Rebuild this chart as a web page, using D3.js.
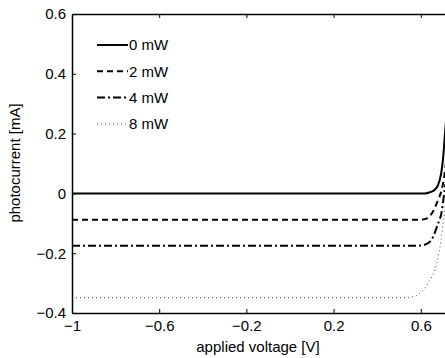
<!DOCTYPE html>
<html>
<head>
<meta charset="utf-8">
<script src="https://cdn.jsdelivr.net/npm/d3@7"></script>
<style>
  body { margin: 0; background: #fff; }
  svg { display: block; font-family: "Liberation Sans", Arial, sans-serif; }
</style>
</head>
<body>
<div id="chart"></div>
<script>
const width = 445;
const height = 358;
const margin = { top: 14, left: 72 };

// data: voltage [V] vs photocurrent [mA]
const seriesNames = ['0 mW', '2 mW', '4 mW', '8 mW'];
const v0 = [-1, 0.6, 0.619, 0.642, 0.665, 0.679, 0.693, 0.702, 0.711, 0.72];
const i0 = [0, 0, 0, 0.004, 0.013, 0.028, 0.065, 0.115, 0.2, 0.28];
const v2 = [-1, 0.596, 0.62, 0.642, 0.658, 0.672, 0.685, 0.697, 0.706, 0.715];
const i2 = [-0.088, -0.088, -0.086, -0.075, -0.058, -0.035, -0.012, 0.015, 0.05, 0.1];
const v4 = [-1, 0.58, 0.6, 0.62, 0.642, 0.66, 0.674, 0.685, 0.693, 0.702, 0.712];
const i4 = [-0.175, -0.175, -0.174, -0.171, -0.161, -0.14, -0.111, -0.09, -0.072, -0.03, 0.03];
const v8 = [-1, 0.53, 0.57, 0.596, 0.615, 0.633, 0.65, 0.665, 0.679, 0.693, 0.702, 0.711, 0.72];
const i8 = [-0.349, -0.349, -0.345, -0.334, -0.32, -0.3, -0.28, -0.256, -0.212, -0.156, -0.1, -0.055, 0.0];
const xTicks = [-1, -0.6, -0.2, 0.2, 0.6];
const yTicks = [-0.4, -0.2, 0, 0.2, 0.4, 0.6];

const styles = [
  { dash: null, w: 2, color: '#000' },
  { dash: '6,4', w: 2, color: '#000' },
  { dash: '8,3,2,3', w: 2, color: '#000' },
  { dash: '1,3', w: 1, color: '#444' }
];

const series = [[v0, i0], [v2, i2], [v4, i4], [v8, i8]].map(([v, c], k) => ({
  name: seriesNames[k],
  points: v.map((d, j) => [d, c[j]])
}));

const svg = d3.select('#chart')
  .append('svg')
  .attr('width', width)
  .attr('height', height);

const x = d3.scaleLinear()
  .domain([-1, 0.75])
  .range([margin.left, margin.left + 1.75 * 218]);

const y = d3.scaleLinear()
  .domain([-0.4, 0.6])
  .range([313, margin.top]);

const fmt = d => (d < 0 ? '\u2212' : '') + Math.abs(d).toString();

svg.append('defs').append('clipPath').attr('id', 'clip')
  .append('rect')
  .attr('x', x(-1)).attr('y', y(0.6))
  .attr('width', x(0.75) - x(-1)).attr('height', y(-0.4) - y(0.6));

// curves
const line = d3.line().x(d => x(d[0])).y(d => y(d[1])).curve(d3.curveMonotoneX);
svg.append('g')
  .attr('clip-path', 'url(#clip)')
  .selectAll('path')
  .data(series)
  .join('path')
    .attr('d', d => line(d.points))
    .attr('fill', 'none')
    .attr('stroke', (d, i) => styles[i].color)
    .attr('stroke-width', (d, i) => styles[i].w)
    .attr('stroke-dasharray', (d, i) => styles[i].dash);

// axes (ticks inward, mirrored on top)
const fs = 15;
const axisStyle = g => {
  g.select('.domain').attr('stroke-width', 1.5);
  g.selectAll('.tick line').attr('stroke-width', 1);
  g.selectAll('text').attr('font-size', fs).attr('fill', '#000');
};

svg.append('g')
  .attr('transform', `translate(0,${y(-0.4)})`)
  .call(d3.axisBottom(x).tickValues(xTicks).tickFormat(fmt).tickSizeInner(-4).tickSizeOuter(0).tickPadding(7))
  .call(axisStyle);

svg.append('g')
  .attr('transform', `translate(0,${y(0.6)})`)
  .call(d3.axisTop(x).tickValues(xTicks).tickFormat('').tickSizeInner(-4).tickSizeOuter(0))
  .call(axisStyle);

svg.append('g')
  .attr('transform', `translate(${x(-1)},0)`)
  .call(d3.axisLeft(y).tickValues(yTicks).tickFormat(fmt).tickSizeInner(-4).tickSizeOuter(0).tickPadding(6))
  .call(axisStyle);

// axis titles
svg.append('text')
  .attr('x', 258).attr('y', 352)
  .attr('text-anchor', 'middle')
  .attr('font-size', fs)
  .text('applied voltage [V]');

svg.append('text')
  .attr('transform', `translate(20,${163}) rotate(-90)`)
  .attr('text-anchor', 'middle')
  .attr('font-size', fs)
  .text('photocurrent [mA]');

// legend
const legend = svg.append('g')
  .selectAll('g')
  .data(series)
  .join('g')
    .attr('transform', (d, i) => `translate(97,${45 + i * 26.3})`);

legend.append('line')
  .attr('x1', 0).attr('x2', 31)
  .attr('stroke', (d, i) => styles[i].color)
  .attr('stroke-width', (d, i) => styles[i].w)
  .attr('stroke-dasharray', (d, i) => styles[i].dash);

legend.append('text')
  .attr('x', 32).attr('dy', '0.36em')
  .attr('font-size', fs)
  .text(d => d.name);
</script>
</body>
</html>
